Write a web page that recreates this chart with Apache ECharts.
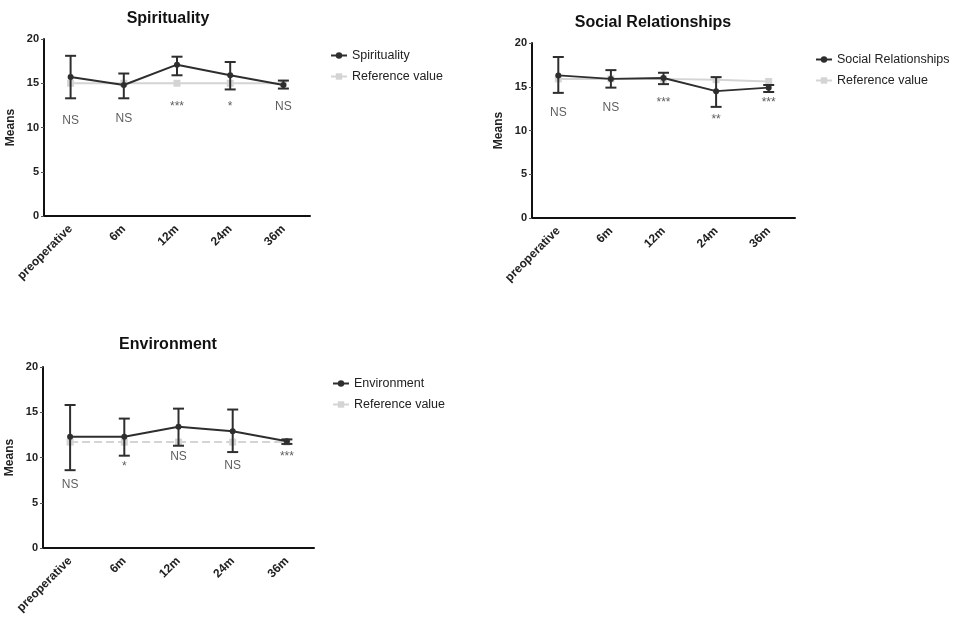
<!DOCTYPE html>
<html><head><meta charset="utf-8">
<script src="https://cdn.jsdelivr.net/npm/echarts@6/dist/echarts.min.js"></script>
<style>html,body{margin:0;padding:0;background:#fff}#c{width:960px;height:619px}</style>
</head><body><div id="c"></div>
<script>
const categories = ['preoperative','6m','12m','24m','36m'];
const yTicks = [0,5,10,15,20];

const spiritMean = [15.7, 14.8, 17.1, 15.9, 14.8];
const spiritLow  = [13.3, 13.3, 15.9, 14.3, 14.4];
const spiritHigh = [18.1, 16.1, 18.0, 17.4, 15.3];
const spiritRef  = [15.0, 15.0, 15.0, 15.0, 15.0];
const spiritSig  = ['NS','NS','***','*','NS'];
const spiritSigY = [10.8, 11.0, 12.4, 12.3, 12.4];

const socialMean = [16.3, 15.9, 16.0, 14.5, 14.9];
const socialLow  = [14.3, 14.9, 15.3, 12.7, 14.4];
const socialHigh = [18.4, 16.9, 16.6, 16.1, 15.2];
const socialRef  = [15.9, 15.9, 15.9, 15.8, 15.6];
const socialSig  = ['NS','NS','***','**','***'];
const socialSigY = [12.0, 12.6, 13.2, 11.2, 13.2];

const envMean = [12.3, 12.3, 13.4, 12.9, 11.8];
const envLow  = [8.6, 10.2, 11.3, 10.6, 11.5];
const envHigh = [15.8, 14.3, 15.4, 15.3, 12.0];
const envRef  = [11.7, 11.7, 11.7, 11.7, 11.7];
const envSig  = ['NS','*','NS','NS','***'];
const envSigY = [7.0, 9.0, 10.1, 9.1, 10.1];

const FONT = 'Liberation Sans';
const DARK = '#2e2e2e';
const LIGHT = '#d4d4d4';

const panels = [
  {name:'Spirituality', mean:spiritMean, low:spiritLow, high:spiritHigh, ref:spiritRef, sig:spiritSig, sigY:spiritSigY,
   grid:{left:44, right:650, top:39, bottom:403}, title:{left:163, top:6}, legend:{left:325, top:44}},
  {name:'Social Relationships', mean:socialMean, low:socialLow, high:socialHigh, ref:socialRef, sig:socialSig, sigY:socialSigY,
   grid:{left:532, right:165, top:43, bottom:401}, title:{left:648, top:10}, legend:{left:810, top:48}},
  {name:'Environment', mean:envMean, low:envLow, high:envHigh, ref:envRef, sig:envSig, sigY:envSigY,
   grid:{left:43, right:646, top:367, bottom:71}, title:{left:163, top:332}, legend:{left:327, top:372}}
];

function errRender(color){
  return function(params, api){
    const x = api.value(0);
    const lo = api.coord([x, api.value(1)]);
    const hi = api.coord([x, api.value(2)]);
    const h = 5.5;
    const st = {stroke: color, lineWidth: 2};
    return {type:'group', children:[
      {type:'line', shape:{x1:lo[0], y1:lo[1], x2:hi[0], y2:hi[1]}, style:st},
      {type:'line', shape:{x1:hi[0]-h, y1:hi[1], x2:hi[0]+h, y2:hi[1]}, style:st},
      {type:'line', shape:{x1:lo[0]-h, y1:lo[1], x2:lo[0]+h, y2:lo[1]}, style:st}
    ]};
  };
}

const option = {
  animation:false,
  backgroundColor:'#fff',
  title:[], legend:[], grid:[], xAxis:[], yAxis:[], series:[]
};

panels.forEach((p,i)=>{
  option.title.push({text:p.name, left:p.title.left, top:p.title.top, textAlign:'center',
    textStyle:{fontFamily:FONT, fontWeight:'bold', fontSize:16, color:'#111'}});
  option.legend.push({data:[p.name,'Reference value'], left:p.legend.left, top:p.legend.top, orient:'vertical',
    itemWidth:16, itemHeight:8, itemGap:8, textStyle:{fontFamily:FONT, fontSize:12.5, color:'#222'}});
  option.grid.push({left:p.grid.left, right:p.grid.right, top:p.grid.top, bottom:p.grid.bottom, containLabel:false});
  option.xAxis.push({type:'category', gridIndex:i, data:categories, boundaryGap:true,
    axisLine:{lineStyle:{color:'#111', width:2}},
    axisTick:{alignWithLabel:true, length:3, lineStyle:{color:'#bbb'}},
    axisLabel:{rotate:45, fontFamily:FONT, fontWeight:'bold', fontSize:12, color:'#222', margin:11}});
  option.yAxis.push({type:'value', gridIndex:i, min:0, max:20, interval:5,
    name:'Means', nameLocation:'middle', nameGap:27, nameRotate:90,
    nameTextStyle:{fontFamily:FONT, fontWeight:'bold', fontSize:12, color:'#222'},
    splitLine:{show:false},
    axisLine:{show:true, lineStyle:{color:'#111', width:2}},
    axisTick:{show:true, length:3, lineStyle:{color:'#555'}},
    axisLabel:{fontFamily:FONT, fontWeight:'bold', fontSize:11, color:'#222', margin:5}});
  option.series.push({name:'Reference value', type:'line', xAxisIndex:i, yAxisIndex:i, data:p.ref,
    symbol:'rect', symbolSize:7, itemStyle:{color:LIGHT}, lineStyle:{color:LIGHT, width:2, type: i===2?'dashed':'solid'}, z:2});
  option.series.push({type:'custom', xAxisIndex:i, yAxisIndex:i,
    data:categories.map((c,k)=>[k, p.low[k], p.high[k]]),
    renderItem:errRender(DARK), z:4, silent:true});
  option.series.push({name:p.name, type:'line', xAxisIndex:i, yAxisIndex:i, data:p.mean,
    symbol:'circle', symbolSize:6, itemStyle:{color:DARK}, lineStyle:{color:DARK, width:2}, z:5});
  option.series.push({type:'scatter', xAxisIndex:i, yAxisIndex:i, symbolSize:0, silent:true,
    data:categories.map((c,k)=>({value:[k, p.sigY[k]], label:{formatter:p.sig[k]}})),
    label:{show:true, position:'inside', fontFamily:FONT, fontSize:12, color:'#333'}, z:6});
});

const chart = echarts.init(document.getElementById('c'), null, {renderer:'canvas'});
chart.setOption(option);
</script></body></html>
